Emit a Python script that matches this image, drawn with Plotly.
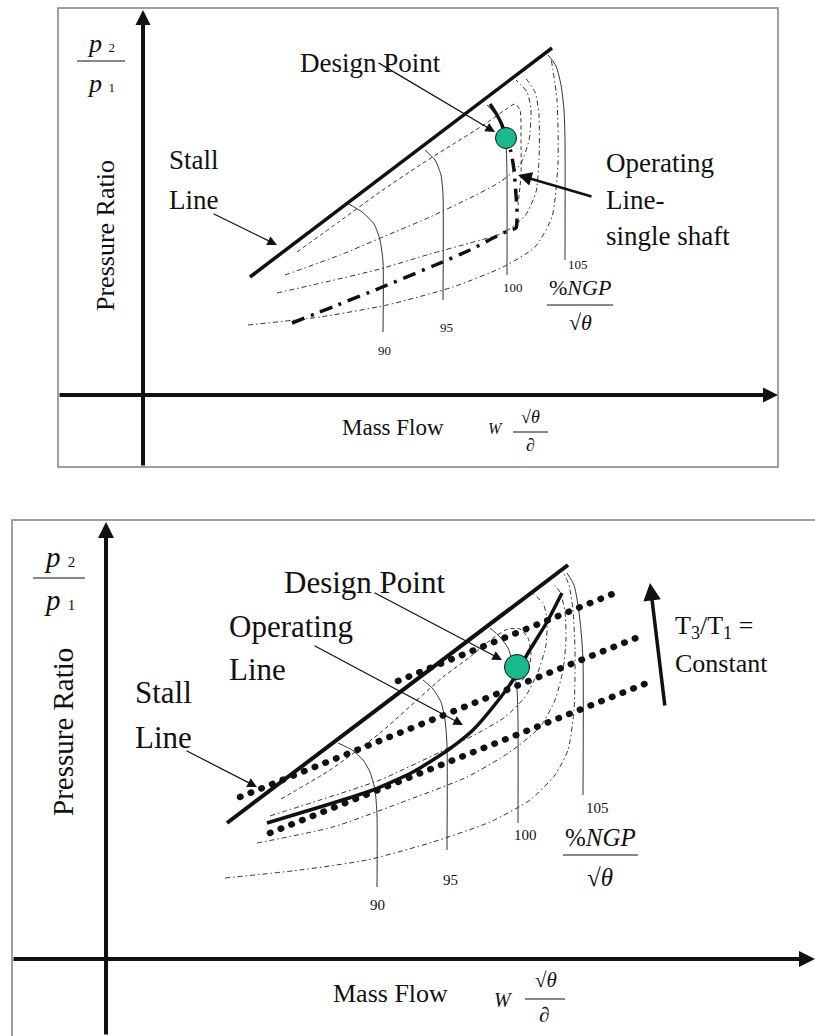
import plotly.graph_objects as go

# ---------------- data (page-pixel coordinates of the schematic) ----------------
# TOP PANEL
stall_top_x = [250, 552]
stall_top_y = [277, 48]

spd90_top_x = [347, 362, 374, 380, 383, 383]
spd90_top_y = [203, 212, 224, 240, 262, 332]
spd95_top_x = [425, 435, 441, 443, 443]
spd95_top_y = [150, 160, 175, 195, 300]
spd100_top_x = [487, 497, 503, 506, 507, 507]
spd100_top_y = [105, 116, 128, 145, 175, 275]
spd105_top_x = [548, 556, 561, 564, 565, 565]
spd105_top_y = [55, 66, 85, 110, 140, 260]

c1_top_x = [297, 340, 380, 420, 455, 485, 505, 515, 520, 521, 521, 518]
c1_top_y = [252, 221, 192, 165, 143, 124, 110, 104, 110, 140, 175, 205]
c2_top_x = [285, 340, 390, 430, 470, 500, 520, 529, 531, 527, 516]
c2_top_y = [275, 255, 234, 217, 198, 182, 165, 140, 110, 92, 80]
c3_top_x = [277, 330, 380, 430, 470, 503, 525, 536, 539, 539, 535, 524]
c3_top_y = [293, 281, 269, 254, 243, 233, 216, 192, 160, 115, 92, 76]
c4_top_x = [248, 320, 387, 453, 503, 535, 552, 558, 557, 551]
c4_top_y = [325, 317, 305, 287, 267, 247, 217, 163, 100, 58]

op_top_x = [292, 335, 380, 433, 470, 497, 510, 516, 517, 516, 514, 511, 506]
op_top_y = [323, 306, 288, 266, 250, 236, 230, 228, 212, 195, 170, 152, 138]
op_top2_x = [506, 502, 497, 490]
op_top2_y = [138, 125, 115, 104]
design_top = (506, 138)

# BOTTOM PANEL
stall_bot_x = [227, 568]
stall_bot_y = [823, 565]

spd90_bot_x = [338, 352, 363, 370, 375, 377, 377]
spd90_bot_y = [743, 750, 760, 772, 790, 815, 887]
spd95_bot_x = [423, 433, 441, 445, 447, 447]
spd95_bot_y = [680, 689, 702, 720, 745, 850]
spd100_bot_x = [490, 500, 508, 513, 517, 518, 518]
spd100_bot_y = [628, 637, 648, 665, 690, 720, 823]
spd105_bot_x = [567, 574, 578, 581, 583, 583]
spd105_bot_y = [573, 585, 605, 630, 660, 795]

e1_bot_x = [281, 330, 380, 443, 470, 493, 508, 520, 528, 531, 528, 520]
e1_bot_y = [799, 770, 733, 677, 657, 638, 629, 629, 638, 655, 672, 683]
e2_bot_x = [270, 320, 380, 440, 480, 505, 525, 538, 546, 547, 543, 533]
e2_bot_y = [816, 800, 780, 752, 732, 717, 697, 672, 645, 620, 603, 594]
e3_bot_x = [257, 333, 400, 467, 510, 540, 555, 563, 566, 565, 560, 552]
e3_bot_y = [843, 827, 803, 777, 752, 727, 700, 670, 640, 612, 592, 583]
e4_bot_x = [225, 300, 367, 433, 490, 530, 555, 568, 574, 575, 573, 569, 563]
e4_bot_y = [878, 870, 860, 842, 822, 800, 775, 750, 710, 650, 610, 585, 572]

op_bot_x = [267, 300, 333, 373, 413, 448, 473, 493, 513, 528, 547, 562]
op_bot_y = [823, 813, 803, 790, 772, 750, 730, 707, 680, 653, 622, 593]

t_top_x = [398, 615]
t_top_y = [681, 593]
t_mid_x = [240, 636]
t_mid_y = [797, 638]
t_bot_x = [270, 647]
t_bot_y = [833, 683]
design_bot = (517, 667)

speed_labels = ["90", "95", "100", "105"]

# ---------------- figure ----------------
fig = go.Figure()
FONT = "Liberation Serif, Times New Roman, serif"
INK = "#111111"
THIN = "#333333"


def line(xs, ys, width=1.0, color=INK, dash="solid"):
    fig.add_trace(go.Scatter(x=xs, y=ys, mode="lines", hoverinfo="skip",
                             line=dict(width=width, color=color, dash=dash,
                                       shape="spline", smoothing=0.6),
                             showlegend=False))


def arrow(x, y, ax, ay, w=1.2, size=1.6, head=2):
    fig.add_annotation(x=x, y=y, ax=ax, ay=ay, xref="x", yref="y",
                       axref="x", ayref="y", showarrow=True, arrowhead=head,
                       arrowwidth=w, arrowsize=size, arrowcolor=INK,
                       standoff=0, text="")


def text(x, y, s, size, xanchor="center", angle=0, italic=False):
    if italic:
        s = "<i>" + s + "</i>"
    fig.add_annotation(x=x, y=y, xref="x", yref="y", text=s, showarrow=False,
                       xanchor=xanchor, yanchor="middle", textangle=angle,
                       font=dict(family=FONT, size=size, color=INK))


def hbar(x0, x1, y, w=1.0):
    fig.add_shape(type="line", x0=x0, x1=x1, y0=y, y1=y, xref="x", yref="y",
                  line=dict(color=INK, width=w))


DASHDOT = "5px,3px,1.5px,3px"
DASH = "4px,3px"
DOTS = "4px,7.5px"

# panel frames
fig.add_shape(type="rect", x0=58, x1=778, y0=8, y1=467, xref="x", yref="y",
              line=dict(color="#808080", width=1.5))
fig.add_shape(type="rect", x0=12, x1=840, y0=520, y1=1060, xref="x", yref="y",
              line=dict(color="#808080", width=1.5))

# ---- top panel curves ----
for xs, ys in [(spd90_top_x, spd90_top_y), (spd95_top_x, spd95_top_y),
               (spd100_top_x, spd100_top_y), (spd105_top_x, spd105_top_y)]:
    line(xs, ys, 1.0, THIN)
line(c1_top_x, c1_top_y, 1.0, THIN, DASH)
line(c2_top_x, c2_top_y, 1.0, THIN, DASHDOT)
line(c3_top_x, c3_top_y, 1.0, THIN, DASHDOT)
line(c4_top_x, c4_top_y, 1.0, THIN, DASHDOT)
line(stall_top_x, stall_top_y, 3.5)
line(op_top_x, op_top_y, 3.5, INK, "13px,7px,3px,7px")
line(op_top2_x, op_top2_y, 3.5)
fig.add_trace(go.Scatter(x=[design_top[0]], y=[design_top[1]], mode="markers",
                         hoverinfo="skip", showlegend=False,
                         marker=dict(size=21, color="#19B98C",
                                     line=dict(color=INK, width=1))))

# ---- bottom panel curves ----
for xs, ys in [(spd90_bot_x, spd90_bot_y), (spd95_bot_x, spd95_bot_y),
               (spd100_bot_x, spd100_bot_y), (spd105_bot_x, spd105_bot_y)]:
    line(xs, ys, 1.0, THIN)
line(e1_bot_x, e1_bot_y, 1.0, THIN, DASH)
line(e2_bot_x, e2_bot_y, 1.0, THIN, DASHDOT)
line(e3_bot_x, e3_bot_y, 1.0, THIN, DASHDOT)
line(e4_bot_x, e4_bot_y, 1.0, THIN, DASHDOT)
for xs, ys in [(t_top_x, t_top_y), (t_mid_x, t_mid_y), (t_bot_x, t_bot_y)]:
    line(xs, ys, 6.5, INK, DOTS)
line(stall_bot_x, stall_bot_y, 4)
line(op_bot_x, op_bot_y, 3.5)
fig.add_trace(go.Scatter(x=[design_bot[0]], y=[design_bot[1]], mode="markers",
                         hoverinfo="skip", showlegend=False,
                         marker=dict(size=25, color="#19B98C",
                                     line=dict(color=INK, width=1))))

# ---- axes (thick arrows) ----
arrow(143, 10, 143, 467, w=4, size=0.75)
arrow(778, 395, 58, 395, w=4, size=0.75)
arrow(106, 522, 106, 1036, w=4, size=0.8)
arrow(815, 959, 12, 959, w=4, size=0.8)

# ---- annotation arrows ----
arrow(277, 245, 212, 213)
arrow(495, 132, 377, 62)
arrow(518, 175, 593, 197, w=2.5, size=1.1)
arrow(257, 787, 185, 750)
arrow(502, 660, 373, 592)
arrow(463, 725, 313, 645)
arrow(650, 583, 665, 707, w=3.5, size=1.0)

# ---- top panel texts ----
text(370, 63, "Design Point", 27)
text(167, 160, "Stall", 27, "left")
text(167, 200, "Line", 27, "left")
text(604, 163, "Operating", 27, "left")
text(604, 200, "Line-", 27, "left")
text(604, 236, "single shaft", 27, "left")
for lab, (lx, ly) in zip(speed_labels, [(384, 350), (446, 327), (513, 287), (578, 264)]):
    text(lx, ly, lab, 13)
text(580, 287, "%<i>NGP</i>", 22)
hbar(547, 613, 305)
text(580, 322, "√<i>θ</i>", 22)
text(105, 236, "Pressure Ratio", 26, angle=-90)
text(101, 43, "<i>p</i> <span style='font-size:13px'>2</span>", 26)
hbar(77, 125, 61)
text(101, 83, "<i>p</i> <span style='font-size:13px'>1</span>", 26)
text(393, 427, "Mass Flow", 23)
text(495, 428, "W", 16, italic=True)
text(530, 417, "√<i>θ</i>", 18)
hbar(513, 548, 432)
text(530, 445, "∂", 18, italic=True)

# ---- bottom panel texts ----
text(364, 582, "Design Point", 31)
text(227, 626, "Operating", 31, "left")
text(227, 669, "Line", 31, "left")
text(133, 692, "Stall", 31, "left")
text(133, 737, "Line", 31, "left")
text(673, 627, "T<sub>3</sub>/T<sub>1</sub> =", 26, "left")
text(673, 663, "Constant", 26, "left")
for lab, (lx, ly) in zip(speed_labels, [(377, 905), (450, 880), (525, 835), (597, 808)]):
    text(lx, ly, lab, 15)
text(600, 837, "%<i>NGP</i>", 25)
hbar(563, 638, 855)
text(600, 877, "√<i>θ</i>", 25)
text(63, 732, "Pressure Ratio", 29, angle=-90)
text(59, 557, "<i>p</i> <span style='font-size:15px'>2</span>", 29)
hbar(33, 85, 578)
text(59, 600, "<i>p</i> <span style='font-size:15px'>1</span>", 29)
text(390, 993, "Mass Flow", 26)
text(503, 1000, "W", 20, italic=True)
text(546, 980, "√<i>θ</i>", 21)
hbar(525, 565, 999)
text(544, 1015, "∂", 21, italic=True)

fig.update_layout(
    width=815, height=1036, margin=dict(l=0, r=0, t=0, b=0),
    paper_bgcolor="white", plot_bgcolor="white", showlegend=False,
    xaxis=dict(range=[0, 815], visible=False, fixedrange=True),
    yaxis=dict(range=[1036, 0], visible=False, fixedrange=True),
)

post = (
    "document.body.style.margin='0';document.body.style.overflow='hidden';"
    "document.querySelectorAll('path.js-line').forEach(function(p){"
    "var d=p.style.strokeDasharray||'';"
    "if(d.indexOf('7.5px')>=0){p.style.strokeLinecap='round';"
    "p.style.strokeDasharray='0.5px,11px';}});"
)
fig.write_html("out.html", config={"displayModeBar": False}, post_script=post)
